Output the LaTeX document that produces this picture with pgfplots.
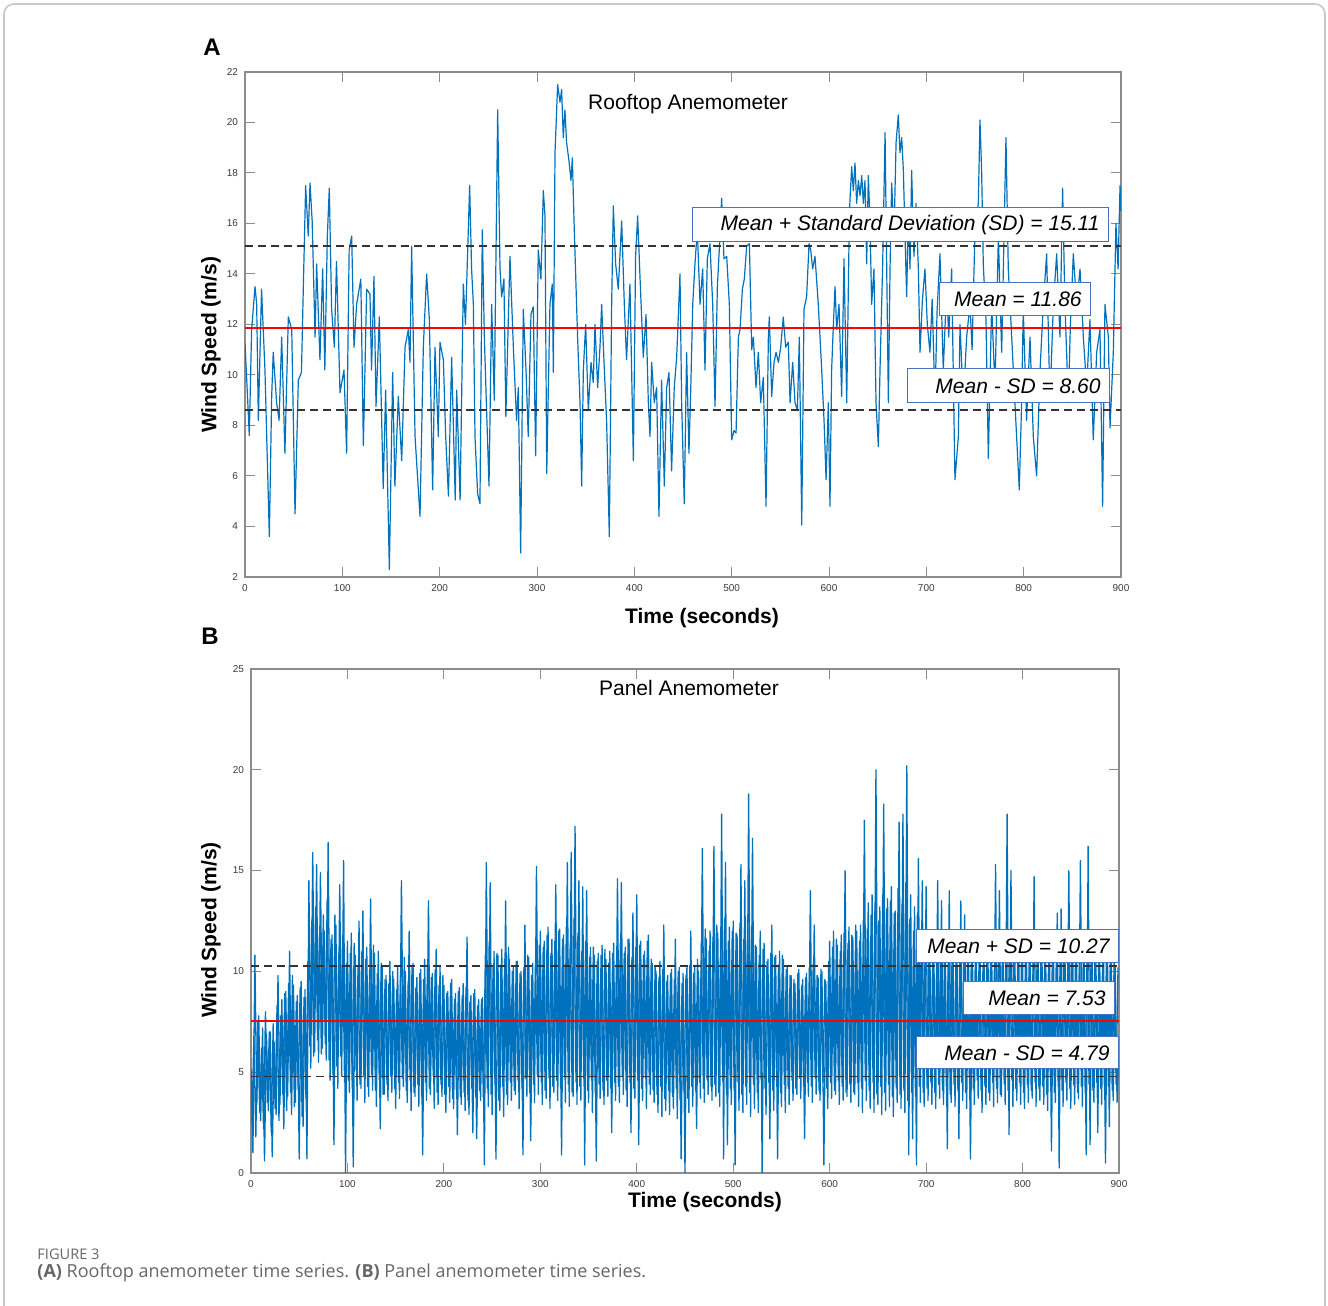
\documentclass[border=0pt]{standalone}
\usepackage{pgfplots}
\pgfplotsset{compat=1.18}
\usepackage{pgfplotstable}
\usepackage{fontspec}
\setmainfont{Liberation Sans}
\newfontfamily\capfont{Open Sans}
\definecolor{mblue}{HTML}{0072BD}
\definecolor{boxblue}{HTML}{4472C4}
\definecolor{axgray}{HTML}{8C8C8C}
\definecolor{tickgray}{HTML}{3A3A3A}
\definecolor{framegray}{HTML}{C8C8C8}
\definecolor{capgray}{HTML}{666666}
\definecolor{dashgray}{HTML}{333333}

% Panel B samples at even seconds
\pgfplotstableread[header=false,row sep=\\]{
5.2\\1.0\\10.8\\3.4\\7.8\\2.6\\7.2\\0.6\\6.9\\3.1\\
7.0\\0.8\\6.5\\2.9\\9.8\\3.4\\8.6\\2.2\\9.0\\3.8\\
11.0\\2.9\\9.3\\3.5\\8.8\\0.7\\9.5\\2.3\\9.1\\0.7\\
14.5\\5.2\\15.9\\6.0\\15.3\\5.5\\14.9\\6.2\\12.0\\5.6\\
16.4\\4.6\\11.8\\1.4\\12.3\\4.2\\14.3\\4.8\\15.5\\0.0\\
11.5\\4.0\\11.9\\0.3\\10.8\\3.6\\12.5\\4.2\\13.0\\3.5\\
11.2\\3.8\\13.6\\4.1\\10.9\\3.3\\11.0\\2.2\\10.3\\3.9\\
9.8\\3.6\\10.5\\4.0\\9.6\\3.2\\10.2\\3.7\\14.5\\4.3\\
10.0\\3.5\\12.0\\3.1\\10.4\\3.8\\9.7\\3.3\\10.1\\0.9\\
10.6\\3.6\\13.5\\3.9\\9.9\\3.2\\11.1\\3.4\\10.2\\3.8\\
9.3\\3.0\\9.0\\3.5\\9.6\\3.2\\8.9\\1.9\\9.2\\3.4\\
9.4\\3.1\\11.7\\2.9\\8.8\\2.0\\9.1\\1.7\\8.6\\3.6\\
8.7\\0.4\\15.4\\3.3\\14.4\\2.9\\11.0\\0.7\\10.8\\3.1\\
11.1\\2.8\\13.5\\3.4\\10.6\\3.6\\10.2\\3.9\\10.5\\3.2\\
10.0\\0.9\\12.3\\3.8\\10.7\\1.6\\10.4\\3.5\\15.2\\3.9\\
12.0\\3.4\\11.5\\3.7\\12.2\\3.2\\11.6\\4.0\\14.3\\3.6\\
12.1\\0.9\\11.8\\3.5\\15.4\\3.3\\15.9\\3.8\\17.2\\3.4\\
14.5\\3.6\\14.2\\0.4\\14.0\\3.5\\11.2\\3.0\\10.8\\0.6\\
10.9\\3.7\\11.3\\3.4\\10.6\\3.8\\11.0\\2.0\\11.4\\3.6\\
14.6\\3.5\\14.4\\3.9\\11.2\\3.3\\11.6\\2.0\\12.9\\3.7\\
13.8\\1.4\\11.5\\3.6\\11.0\\3.2\\11.8\\3.9\\10.4\\3.5\\
10.0\\3.0\\10.5\\2.8\\12.3\\3.1\\9.8\\2.9\\10.1\\3.2\\
11.6\\2.7\\10.2\\0.7\\9.9\\0.0\\10.3\\3.0\\12.0\\3.3\\
10.3\\2.2\\10.0\\3.7\\16.1\\3.5\\11.6\\3.9\\12.0\\3.6\\
16.2\\3.8\\11.9\\3.3\\17.8\\0.7\\15.4\\1.4\\12.2\\3.4\\
12.5\\0.4\\11.8\\3.1\\15.3\\3.0\\14.5\\3.4\\18.8\\2.8\\
16.6\\3.2\\11.2\\3.0\\12.0\\0.0\\11.4\\2.9\\10.6\\1.7\\
12.3\\3.1\\10.8\\0.7\\11.0\\3.3\\10.6\\3.0\\10.2\\3.4\\
9.8\\3.6\\9.4\\3.9\\10.1\\3.7\\9.6\\1.7\\9.9\\3.8\\
14.0\\3.5\\12.3\\3.9\\9.7\\3.6\\10.0\\0.4\\9.5\\3.2\\
11.5\\3.7\\12.0\\3.9\\11.3\\3.4\\11.8\\3.6\\15.0\\3.8\\
12.2\\3.5\\11.7\\3.9\\12.0\\3.3\\12.3\\3.0\\17.5\\3.6\\
13.4\\3.2\\13.8\\3.0\\20.0\\3.4\\13.2\\2.9\\18.3\\3.1\\
13.6\\3.3\\14.2\\2.8\\13.0\\3.5\\17.4\\3.2\\17.8\\3.0\\
20.2\\0.9\\13.8\\1.7\\13.2\\0.4\\15.6\\3.5\\14.5\\3.3\\
14.2\\3.6\\10.6\\3.4\\11.0\\3.2\\14.5\\3.7\\13.5\\3.4\\
10.8\\1.2\\14.0\\3.5\\10.5\\3.3\\10.9\\1.7\\13.5\\3.6\\
12.8\\3.2\\10.6\\0.7\\10.9\\3.4\\11.1\\3.7\\10.4\\3.0\\
10.8\\3.4\\11.2\\3.6\\10.7\\3.3\\15.3\\3.5\\14.0\\3.8\\
11.0\\3.4\\17.8\\1.9\\15.0\\3.3\\10.8\\3.6\\11.2\\3.4\\
10.7\\3.2\\11.0\\3.5\\10.5\\3.7\\14.7\\3.3\\10.9\\3.6\\
11.3\\3.4\\10.6\\3.1\\10.9\\1.1\\11.1\\3.5\\12.9\\0.25\\
13.1\\3.3\\10.8\\3.6\\15.0\\3.2\\11.2\\3.4\\10.6\\3.7\\
15.5\\3.3\\11.0\\0.9\\16.2\\1.4\\10.9\\3.5\\11.0\\2.0\\
10.5\\3.4\\10.8\\0.5\\11.1\\2.3\\10.7\\3.6\\10.3\\3.5\\
6.5\\
}\tabB

% Panel B samples at odd seconds
\pgfplotstableread[header=false,row sep=\\]{
2.5\\6.8\\1.8\\7.5\\3.0\\6.2\\2.2\\8.0\\3.5\\7.0\\
2.0\\7.4\\3.2\\8.3\\2.6\\7.8\\3.9\\8.9\\3.1\\9.4\\
4.0\\9.8\\3.3\\8.5\\4.1\\9.2\\2.8\\8.7\\3.7\\10.5\\
6.3\\12.5\\5.8\\13.2\\6.6\\11.9\\5.9\\12.8\\6.4\\13.6\\
5.6\\11.6\\4.9\\12.8\\5.3\\10.9\\5.8\\11.8\\4.5\\10.4\\
4.6\\10.9\\4.2\\11.4\\5.1\\10.2\\4.4\\11.0\\4.8\\10.6\\
4.3\\10.1\\4.9\\11.3\\4.1\\9.9\\4.6\\10.4\\3.9\\9.6\\
4.4\\9.4\\4.8\\10.0\\4.2\\9.1\\4.5\\9.8\\4.7\\10.7\\
4.1\\9.5\\4.6\\10.3\\4.0\\9.2\\4.4\\9.9\\3.8\\9.6\\
4.5\\10.4\\4.2\\9.7\\4.8\\10.1\\4.0\\9.3\\4.4\\9.8\\
3.9\\8.9\\4.3\\9.4\\3.7\\8.6\\4.1\\9.0\\3.8\\8.8\\
4.0\\9.2\\3.6\\8.5\\4.2\\8.9\\3.8\\8.3\\4.1\\8.6\\
3.7\\10.8\\4.2\\11.5\\3.9\\10.2\\4.4\\10.9\\3.6\\10.3\\
4.3\\10.6\\3.9\\11.2\\4.5\\10.0\\4.1\\10.5\\4.6\\9.9\\
4.2\\10.2\\4.7\\10.8\\4.0\\9.8\\4.4\\10.6\\4.8\\11.3\\
4.5\\11.2\\4.1\\11.8\\4.7\\10.9\\4.3\\11.5\\4.6\\12.0\\
4.2\\11.6\\4.8\\12.2\\4.4\\11.4\\4.0\\12.6\\4.5\\11.9\\
4.3\\11.0\\4.7\\11.5\\4.1\\10.7\\4.6\\11.2\\4.0\\10.5\\
4.4\\10.8\\4.1\\11.1\\4.6\\10.4\\4.2\\10.9\\4.5\\10.6\\
4.3\\11.4\\4.8\\10.9\\4.1\\11.6\\4.5\\10.7\\4.2\\11.2\\
4.6\\11.3\\4.2\\10.8\\4.7\\11.5\\4.4\\10.6\\4.1\\10.2\\
3.9\\9.7\\4.3\\10.1\\3.7\\9.5\\4.1\\9.9\\3.8\\9.6\\
4.2\\10.0\\3.6\\9.4\\4.0\\9.8\\3.7\\10.3\\4.3\\9.9\\
4.1\\10.6\\4.5\\11.4\\4.2\\12.1\\4.6\\11.0\\4.3\\11.7\\
4.4\\12.3\\4.0\\11.8\\4.6\\12.6\\3.9\\11.5\\4.2\\12.0\\
4.1\\11.9\\4.5\\12.4\\3.9\\11.6\\4.3\\12.8\\4.0\\12.2\\
4.4\\11.3\\4.0\\10.8\\4.6\\11.1\\4.2\\10.5\\4.5\\10.9\\
4.1\\10.7\\4.5\\10.3\\4.0\\10.8\\4.4\\10.1\\4.2\\9.8\\
4.6\\9.6\\4.2\\9.9\\4.7\\9.3\\4.3\\9.7\\4.5\\10.2\\
4.3\\10.4\\4.7\\9.8\\4.1\\10.1\\4.5\\9.6\\4.2\\10.5\\
4.5\\11.2\\4.1\\11.6\\4.6\\11.0\\4.3\\11.9\\4.0\\11.4\\
4.4\\11.8\\4.0\\12.3\\4.5\\11.5\\4.2\\12.6\\4.6\\12.1\\
4.1\\12.8\\4.5\\13.4\\3.9\\12.5\\4.3\\13.8\\4.0\\13.1\\
4.4\\13.5\\3.8\\12.9\\4.2\\14.1\\3.9\\13.3\\4.1\\14.4\\
3.6\\12.6\\4.0\\12.0\\3.8\\12.9\\4.3\\11.7\\4.0\\11.2\\
4.2\\10.9\\4.5\\11.3\\4.0\\10.7\\4.4\\11.0\\4.1\\10.5\\
4.3\\10.8\\3.9\\11.2\\4.4\\10.6\\4.1\\10.9\\4.5\\10.4\\
4.0\\10.7\\4.4\\11.0\\4.2\\10.5\\4.6\\10.8\\4.1\\10.3\\
4.3\\10.9\\4.0\\11.3\\4.5\\10.6\\4.2\\11.1\\3.9\\10.8\\
4.4\\11.2\\4.1\\10.8\\4.6\\11.0\\4.2\\10.5\\4.5\\10.9\\
4.0\\10.6\\4.4\\11.1\\4.1\\10.7\\4.5\\10.4\\4.2\\10.9\\
4.3\\10.8\\3.9\\10.5\\4.4\\11.0\\4.0\\10.7\\4.3\\10.6\\
4.1\\11.0\\4.5\\10.6\\4.2\\11.2\\4.4\\10.8\\4.0\\10.9\\
4.3\\10.7\\4.0\\11.1\\4.4\\10.5\\4.1\\10.9\\4.5\\10.6\\
4.2\\10.4\\4.0\\10.8\\4.3\\10.5\\4.1\\10.7\\4.4\\10.2\\
}\tabC

\pgfplotsset{
  mat/.style={
    scale only axis, anchor=south west,
    axis line style={axgray, line width=0.6pt},
    tick style={axgray, line width=0.5pt},
    tick align=inside,
    major tick length=5pt,
    ticklabel style={font=\fontsize{5}{6}\selectfont, text=tickgray},
    /pgf/number format/assume math mode=true,
    xmin=0, xmax=900, xtick={0,100,...,900},
    enlargelimits=false,
    clip=true,
  }
}

\begin{document}
\begin{tikzpicture}
\begin{scope}[x=0.5pt,y=0.5pt]
\useasboundingbox (0,0) rectangle (1328,1306);
\draw[framegray, line width=0.8pt, rounded corners=5pt] (4,-20) -- (4,1302) -- (1325,1302) -- (1325,-20);
\end{scope}

% Panel A
\begin{axis}[mat, at={(122.5pt,364.5pt)}, width=438pt, height=252.5pt,
  ymin=2, ymax=22, ytick={2,4,...,22}]
\addplot[mblue, line width=0.6pt, line join=round] coordinates {
(0,11.25)(2.4,9.3)(4.4,7.6)(6.8,11.8)(10.3,13.5)(12,12.8)(13.7,8.2)(17,13.4)(20.5,10.2)(25,3.6)(27.4,9.15)(29,10.9)(32.5,8.9)(35,8.2)(37.7,11.5)(41,6.9)(44.5,12.3)(48,11.8)(51.4,4.5)(54.8,9.8)(58,10.1)(60,13.6)(62.3,17.5)(65,15.5)(66.8,17.6)(69,16.1)(72,11.5)(73.6,14.4)(77,10.6)(79.8,14.2)(82,10.2)(84.6,15.5)(86.6,17.4)(89,12.6)(91.8,11.1)(94,14.5)(97.6,9.3)(101.7,10.2)(104.4,6.9)(107,14.95)(109.6,15.5)(112,11.1)(114.7,12.8)(119,13.8)(121.6,7.2)(125,13.4)(128.4,13.2)(130,10.2)(132.5,13.9)(134.6,8.75)(138,12.3)(142,5.5)(144.5,9.4)(148.3,2.3)(151.7,10.1)(154,5.6)(157.5,9.15)(161,6.6)(164.4,11.1)(167.8,11.8)(169.5,10.5)(171.2,15.1)(174.7,7.56)(179.8,4.4)(183.2,11.1)(186.6,14)(189.4,12.2)(192.8,5.45)(195.2,11.1)(198.6,7.56)(200.3,11.3)(203.8,10.6)(206.2,7.56)(209,5.2)(212.3,10.7)(216,5.05)(217.5,9.4)(221,5.05)(224.3,13.6)(226.5,12)(230.8,17.5)(232.8,14.2)(234.6,12.8)(236.3,7.56)(239,5.3)(241.4,4.9)(243.8,15.75)(245.9,11.5)(248.3,8.5)(250.7,5.6)(253.4,12.8)(256.1,9)(259.6,20.5)(262,14.2)(263.7,13.1)(266,13.8)(268,8.35)(272.2,14.7)(275.7,11.1)(279,8.2)(280.8,9.5)(283.2,2.95)(285.9,12.6)(288.7,10.2)(291,7.56)(293.8,12.4)(296.2,12.7)(298.6,6.8)(301.3,14.95)(304,13.8)(306.5,17.3)(308.2,16.3)(310,6.1)(313.3,12.8)(315.7,13.6)(316.8,10.1)(318.5,18.8)(321.2,21.5)(323.6,20.8)(325.3,21.3)(327,19.4)(328.7,20.5)(330.4,19.2)(332.8,18.5)(334.9,17.7)(336.3,18.6)(338.3,15.75)(341.7,11.5)(344.2,8.9)(345.9,5.6)(347.6,10.2)(350,12)(352.7,8.6)(355.5,10.5)(357.8,9.7)(359.6,12)(362.3,9.5)(364.7,11.1)(366.4,12.8)(369.2,10.2)(371.5,8.2)(374.3,3.6)(376.7,12.8)(378.4,16.7)(380.8,14.4)(383.5,13.4)(387,16.1)(389.7,12.8)(392,10.6)(395.5,13.6)(399,6.6)(401.3,14.7)(403.4,16.3)(405.8,13.9)(409.2,10.7)(412,12.4)(414.4,8.9)(416.1,7.56)(417.8,10.5)(420.5,8.9)(422.9,9.5)(425.3,4.4)(428,9.8)(430.8,5.6)(433.2,9.5)(435.6,10.1)(438.3,6.2)(441,9.5)(443.5,10.7)(446.9,14)(448.6,8.9)(451.3,4.9)(453.7,10.9)(456.1,6.9)(458,9.5)(460,12.8)(462.3,14.4)(464.7,15.75)(467.5,12.8)(470.2,14.2)(472.6,10.2)(475,14.6)(477.7,15.2)(480.5,12.8)(482.9,8.75)(485.3,13.5)(488,15.5)(489.7,17)(492.1,14.6)(494.9,14.7)(497.6,12.8)(500,7.43)(502.4,7.8)(504.5,7.7)(506.9,11.5)(508.6,11.8)(511,13.4)(513,13.8)(515.4,15.1)(518.2,15.2)(520.6,11)(522.3,11.5)(525,9.5)(527.4,10.9)(529.8,8.9)(532.5,9.9)(535.3,4.8)(537.7,11.5)(538.7,12.3)(541.1,9.15)(543.5,10.5)(545.6,10.9)(548,10.5)(550.4,11.1)(553,12.3)(555.5,11.1)(558.2,11.3)(560,8.9)(562.7,10.5)(565.1,8.9)(567.5,8.6)(569.5,11.5)(572,4.06)(574.3,12.6)(577,13.1)(579.5,15.2)(581.2,14.95)(583.2,14.2)(585.6,14.7)(589,12.8)(592.5,10.2)(594.9,8.2)(597,5.85)(599.3,8.9)(601,4.8)(602.7,10.2)(604.5,12)(606.2,13.5)(607.9,11.8)(610.3,12.8)(613,9.15)(615.4,14.6)(618.2,8.9)(621,16.5)(623.3,18.25)(625,17.3)(626.7,18.4)(628.4,16.8)(630.2,17.7)(631.9,17.1)(633.6,17.9)(635.3,16.8)(637,17.7)(638.7,14.4)(640.4,17.9)(642.1,16.1)(643.8,12.8)(646.2,14.2)(648.3,8.9)(650.7,7.16)(652.4,10.2)(655.1,14.3)(657.6,19.6)(659.3,14.2)(661,8.9)(662.7,14.2)(664.4,17.6)(666.8,15.5)(668.9,19.2)(671.2,20.3)(672.9,18.8)(674.7,19.4)(676.4,18.1)(678.1,15.5)(679.8,13.1)(681.5,16.5)(683.2,14.2)(684.9,18.1)(687.3,14.7)(689.4,16.8)(691.8,14.2)(693.5,10.9)(696,13)(698.6,14.2)(701,12)(703.7,10.9)(706,13)(708.9,8.9)(711,12.5)(714,14.8)(717.4,10.2)(720.9,13.5)(723,11.5)(726,14.2)(729.4,5.85)(732.9,7.56)(734.6,12)(738,8.9)(741.4,11.5)(744.8,12.8)(747,11)(750,15.75)(753.4,16.8)(755.1,20.1)(756.8,18.1)(758.5,14.4)(761.3,12.2)(763.7,6.7)(767.1,12.8)(770.5,9.5)(774,15.5)(777.4,10.9)(779.8,15.5)(781.8,19.4)(784.2,14.2)(787.7,11.5)(791,8.9)(795.5,5.45)(797.9,8.9)(799.6,12.6)(803,8.2)(806.5,11.5)(809.9,7.56)(813.3,6)(816.8,10.2)(820.2,12.8)(823.6,14.8)(827,8.9)(830.5,12.8)(833.9,14.8)(837.3,11.5)(840,17.4)(842.4,12.8)(845.9,8.9)(848,12)(851,14.8)(854.4,12.8)(857.9,14.2)(861.3,11.5)(864.7,9.5)(868.1,12.2)(871.5,7.43)(875,10.9)(878.4,11.8)(881.1,4.8)(883.5,12.8)(887,11.5)(888.7,7.9)(892.1,10.9)(894.8,16)(897,14.2)(899,17.5)(900,16.5)
};
\addplot[red, line width=0.9pt] coordinates {(0,11.86) (900,11.86)};
\addplot[dashgray, line width=0.9pt, dash pattern=on 4pt off 2.5pt] coordinates {(0,15.11) (900,15.11)};
\addplot[dashgray, line width=0.9pt, dash pattern=on 4pt off 2.5pt] coordinates {(0,8.60) (900,8.60)};
\end{axis}

% Panel B
\begin{axis}[mat, at={(125.5pt,66.5pt)}, width=434pt, height=252pt,
  ymin=0, ymax=25, ytick={0,5,...,25}]
\addplot[mblue, line width=0.65pt, line join=round] table[x expr=\coordindex*2, y index=0] {\tabB};
\addplot[mblue, line width=0.65pt, line join=round] table[x expr=\coordindex*2+1, y index=0] {\tabC};
\addplot[red, line width=0.9pt] coordinates {(0,7.53) (900,7.53)};
\addplot[dashgray, line width=0.9pt, dash pattern=on 4pt off 2.5pt] coordinates {(0,10.27) (900,10.27)};
\addplot[dashgray, line width=0.9pt, dash pattern=on 4pt off 2.5pt] coordinates {(0,4.79) (900,4.79)};
\end{axis}

\begin{scope}[x=0.5pt,y=0.5pt]
\node[font=\fontsize{12}{14}\selectfont\bfseries] at (212,1259) {A};
\node[font=\fontsize{12}{14}\selectfont\bfseries] at (210,670) {B};
\node[font=\fontsize{10.5}{12}\selectfont] at (688,1202) {Rooftop Anemometer};
\node[font=\fontsize{10.5}{12}\selectfont] at (689,618) {Panel Anemometer};
\node[font=\fontsize{10.5}{12}\selectfont\bfseries, rotate=90] at (211,961) {Wind Speed (m/s)};
\node[font=\fontsize{10.5}{12}\selectfont\bfseries, rotate=90] at (211,376) {Wind Speed (m/s)};
\node[font=\fontsize{10.5}{12}\selectfont\bfseries] at (702,688) {Time (seconds)};
\node[font=\fontsize{10.5}{12}\selectfont\bfseries] at (705,104) {Time (seconds)};
% boxes A
\draw[boxblue, fill=white, line width=0.5pt] (692,1064) rectangle (1108,1098);
\node[anchor=east, font=\fontsize{10.5}{12}\selectfont\itshape, inner sep=0pt] at (1100,1081) {Mean + Standard Deviation (SD) = 15.11};
\draw[boxblue, fill=white, line width=0.5pt] (939,990) rectangle (1090,1023);
\node[anchor=east, font=\fontsize{10.5}{12}\selectfont\itshape, inner sep=0pt] at (1082,1006.5) {Mean = 11.86};
\draw[boxblue, fill=white, line width=0.5pt] (907,903) rectangle (1109,937);
\node[anchor=east, font=\fontsize{10.5}{12}\selectfont\itshape, inner sep=0pt] at (1101,920) {Mean - SD = 8.60};
% boxes B
\draw[boxblue, fill=white, line width=0.5pt] (916,343) rectangle (1118,376);
\node[anchor=east, font=\fontsize{10.5}{12}\selectfont\itshape, inner sep=0pt] at (1110,359.5) {Mean + SD = 10.27};
\draw[boxblue, fill=white, line width=0.5pt] (963,291) rectangle (1114,324);
\node[anchor=east, font=\fontsize{10.5}{12}\selectfont\itshape, inner sep=0pt] at (1106,307.5) {Mean = 7.53};
\draw[boxblue, fill=white, line width=0.5pt] (916,237) rectangle (1118,269);
\node[anchor=east, font=\fontsize{10.5}{12}\selectfont\itshape, inner sep=0pt] at (1110,253) {Mean - SD = 4.79};
% caption
\node[anchor=west, inner sep=0pt, font=\capfont\fontsize{7.3}{8}\selectfont, text=capgray] at (37,52) {FIGURE 3};
\node[anchor=west, inner sep=0pt, font=\capfont\fontsize{9}{10}\selectfont, text=capgray] at (37,33) {\textbf{(A)} Rooftop anemometer time series. \textbf{(B)} Panel anemometer time series.};
\end{scope}
\end{tikzpicture}
\end{document}
